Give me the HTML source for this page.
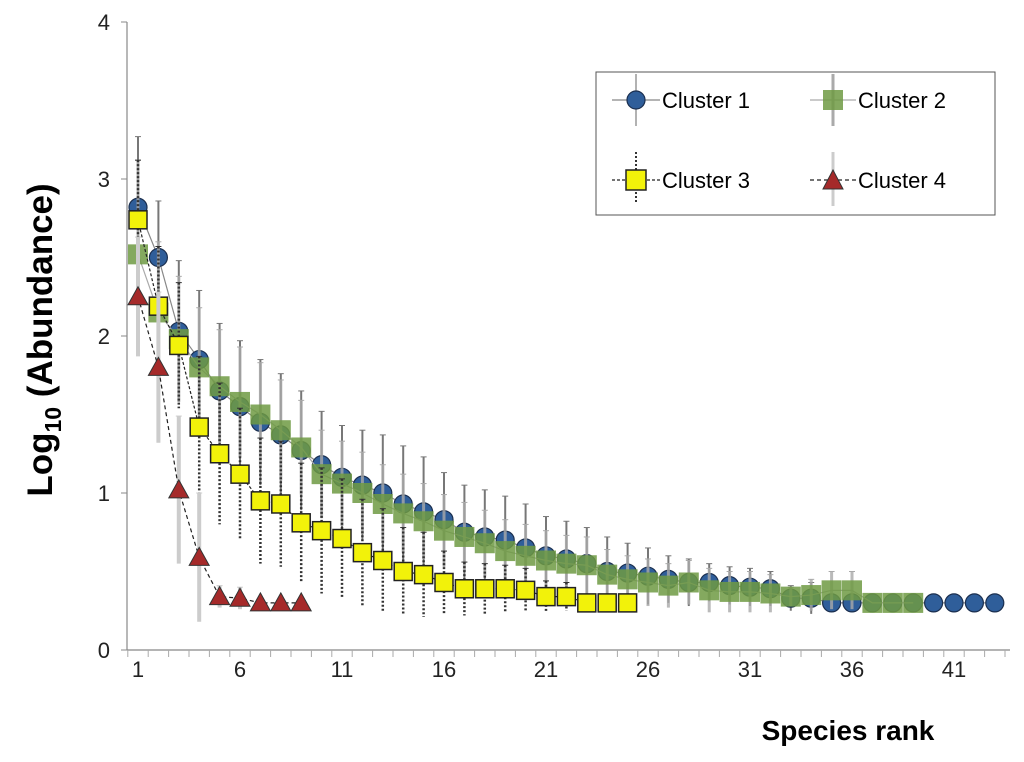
<!DOCTYPE html>
<html><head><meta charset="utf-8"><style>
body{margin:0;background:#fff;}
svg text{font-family:"Liberation Sans",Arial,sans-serif;}
</style></head><body>
<svg id="chart" width="1024" height="757" xmlns="http://www.w3.org/2000/svg">
<g id="axes"></g>
<g id="marks"></g>
<g>
<rect x="596" y="72" width="399" height="143" fill="#fff" stroke="#555" stroke-width="1"/>
<line x1="612" y1="100" x2="660" y2="100" stroke="#888" stroke-width="1.2"/>
<line x1="636" y1="74" x2="636" y2="126" stroke="#999" stroke-width="1.5"/>
<circle cx="636" cy="100" r="9" fill="#2f5e9a" stroke="#1b2f4f" stroke-width="1.2"/>
<text x="662" y="108" font-size="22">Cluster 1</text>
<line x1="810" y1="100" x2="856" y2="100" stroke="#aaa" stroke-width="1.2"/>
<line x1="833" y1="74" x2="833" y2="126" stroke="#aaa" stroke-width="3"/>
<rect x="823" y="90" width="20" height="20" fill="#6f9a43" opacity="0.85"/>
<text x="858" y="108" font-size="22">Cluster 2</text>
<line x1="612" y1="180" x2="660" y2="180" stroke="#222" stroke-width="1.2" stroke-dasharray="3,2"/>
<line x1="636" y1="152" x2="636" y2="204" stroke="#333" stroke-width="2" stroke-dasharray="2,2"/>
<rect x="626" y="170" width="20" height="20" fill="#f2f20a" stroke="#222" stroke-width="1.5"/>
<text x="662" y="188" font-size="22">Cluster 3</text>
<line x1="810" y1="180" x2="856" y2="180" stroke="#222" stroke-width="1.2" stroke-dasharray="4,3"/>
<line x1="833" y1="152" x2="833" y2="206" stroke="#ccc" stroke-width="3"/>
<polygon points="833,170 843,189 823,189" fill="#a52a2a" stroke="#333" stroke-width="1"/>
<text x="858" y="188" font-size="22">Cluster 4</text>
</g>
<text x="848" y="740" font-size="28" font-weight="bold" text-anchor="middle">Species rank</text>
<text transform="translate(52,340) rotate(-90)" font-size="35" font-weight="bold" text-anchor="middle">Log<tspan font-size="23" dy="9">10</tspan><tspan dy="-9"> (Abundance)</tspan></text>
</svg>
<script>
const c1 = [2.82,2.50,2.03,1.85,1.65,1.55,1.45,1.37,1.27,1.18,1.10,1.05,1.00,0.93,0.88,0.83,0.75,0.72,0.70,0.65,0.60,0.58,0.55,0.50,0.49,0.47,0.45,0.43,0.43,0.41,0.40,0.39,0.33,0.33,0.30,0.30,0.30,0.30,0.30,0.30,0.30,0.30,0.30];
const e1 = [0.45,0.36,0.45,0.44,0.43,0.42,0.40,0.39,0.38,0.34,0.33,0.35,0.37,0.37,0.35,0.30,0.30,0.30,0.28,0.28,0.25,0.24,0.23,0.22,0.19,0.18,0.15,0.15,0.12,0.12,0.12,0.11,0.08,0.1,0,0,0,0,0,0,0,0,0];
const c2 = [2.52,2.15,1.98,1.80,1.68,1.58,1.50,1.40,1.29,1.12,1.06,1.00,0.93,0.87,0.82,0.76,0.72,0.68,0.63,0.60,0.57,0.55,0.54,0.48,0.45,0.43,0.41,0.43,0.38,0.37,0.37,0.36,0.34,0.35,0.38,0.38,0.30,0.30,0.30];
const e2 = [0.6,0.45,0.4,0.38,0.36,0.35,0.33,0.32,0.3,0.28,0.27,0.26,0.25,0.25,0.24,0.23,0.22,0.21,0.2,0.2,0.19,0.18,0.18,0.16,0.15,0.15,0.14,0.14,0.14,0.13,0.13,0.12,0.06,0.1,0.12,0.12,0,0,0];
const c3 = [2.74,2.19,1.94,1.42,1.25,1.12,0.95,0.93,0.81,0.76,0.71,0.62,0.57,0.50,0.48,0.43,0.39,0.39,0.39,0.38,0.34,0.34,0.30,0.30,0.30];
const e3 = [0.38,0.38,0.4,0.45,0.45,0.42,0.4,0.4,0.38,0.4,0.38,0.34,0.33,0.28,0.27,0.2,0.17,0.16,0.15,0.14,0.1,0.09,0,0,0];
const c4 = [2.25,1.80,1.02,0.59,0.34,0.33,0.30,0.30,0.30];
const e4 = [0.38,0.48,0.47,0.41,0.07,0.07,0,0,0];
const yTicks = [0,1,2,3,4];
const xTicks = [1,6,11,16,21,26,31,36,41];
const NS='http://www.w3.org/2000/svg';
function X(r){return 138+(r-1)*20.4;}
function Y(v){return 650-v*157;}
function mk(tag,attrs,parent){const e=document.createElementNS(NS,tag);for(const k in attrs)e.setAttribute(k,attrs[k]);parent.appendChild(e);return e;}
const ax=document.getElementById('axes'), mg=document.getElementById('marks');
let yl=mk('line',{x1:127,y1:22,x2:127,y2:650,stroke:'#888','stroke-width':1.2},ax);


let xl=mk('line',{x1:127,y1:650,x2:1010,y2:650,stroke:'#888','stroke-width':1.2},ax);


yTicks.forEach(v=>{mk('line',{x1:121,y1:Y(v),x2:127,y2:Y(v),stroke:'#888'},ax);
 const t=mk('text',{x:110,y:Y(v)+8,'font-size':22,'text-anchor':'end',fill:'#222'},ax);t.textContent=v;
 
 });
for(let r=1;r<=44;r++){mk('line',{x1:X(r)-10.2,y1:650,x2:X(r)-10.2,y2:657,stroke:'#aaa'},ax);}
xTicks.forEach(r=>{const t=mk('text',{x:X(r),y:677,'font-size':22,'text-anchor':'middle',fill:'#222'},ax);t.textContent=r;
 
 });
function series(vals,errs,name,lineStyle,errStyle,marker){
 const g=mk('g',{},mg);
 
 
 vals.forEach((v,i)=>{const e=errs[i];if(e>0){mk('line',Object.assign({x1:X(i+1),x2:X(i+1),y1:Y(v+e),y2:Y(Math.max(0.05,v-e))},errStyle),g);
  mk('line',{x1:X(i+1)-3,x2:X(i+1)+3,y1:Y(v+e),y2:Y(v+e),stroke:errStyle.stroke},g);}});
 mk('polyline',Object.assign({points:vals.map((v,i)=>X(i+1)+','+Y(v)).join(' '),fill:'none'},lineStyle),g);
 vals.forEach((v,i)=>marker(g,X(i+1),Y(v)));
}
series(c1,e1,'series-cluster-1',{stroke:'#888','stroke-width':1.2},{stroke:'#777','stroke-width':2},
 (g,x,y)=>mk('circle',{cx:x,cy:y,r:9,fill:'#2f5e9a',stroke:'#1b2f4f','stroke-width':1.2},g));
series(c2,e2,'series-cluster-2',{stroke:'#aaa','stroke-width':1.2},{stroke:'#aaa','stroke-width':3,opacity:0.8},
 (g,x,y)=>mk('rect',{x:x-10,y:y-10,width:20,height:20,fill:'#6f9a43',opacity:0.85},g));
series(c3,e3,'series-cluster-3',{stroke:'#222','stroke-width':1.2,'stroke-dasharray':'3,2'},{stroke:'#333','stroke-width':2.5,'stroke-dasharray':'2,2'},
 (g,x,y)=>mk('rect',{x:x-9,y:y-9,width:18,height:18,fill:'#f2f20a',stroke:'#222','stroke-width':1.5},g));
series(c4,e4,'series-cluster-4',{stroke:'#222','stroke-width':1.2,'stroke-dasharray':'4,3'},{stroke:'#ccc','stroke-width':4},
 (g,x,y)=>mk('polygon',{points:`${x},${y-10} ${x+10},${y+8} ${x-10},${y+8}`,fill:'#a52a2a',stroke:'#333','stroke-width':1},g));
</script>
</body></html>
